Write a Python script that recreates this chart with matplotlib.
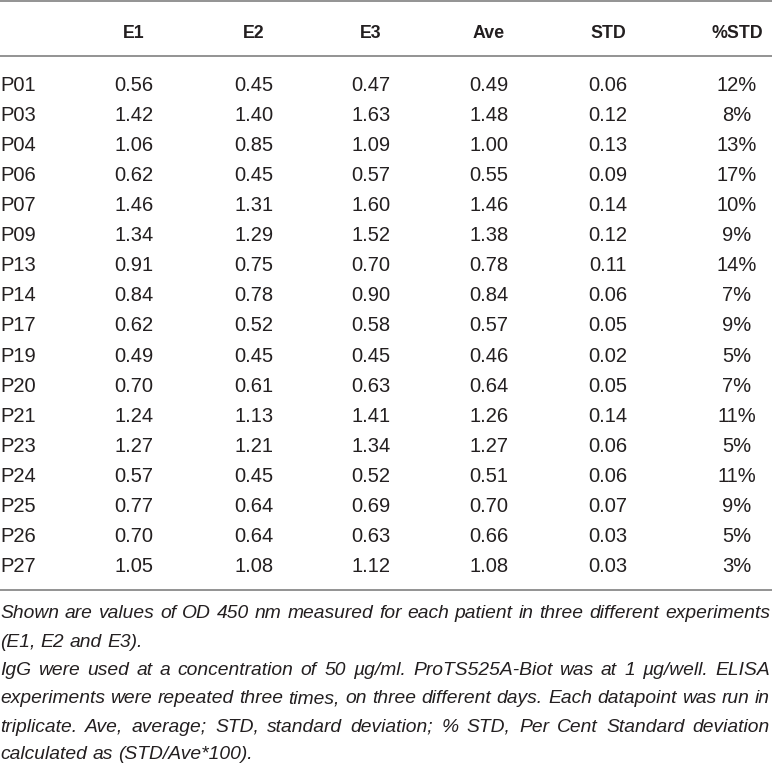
import matplotlib
matplotlib.use('Agg')
import matplotlib.pyplot as plt
from matplotlib import font_manager

# Table data (OD 450 nm per patient)
patients = ['P01', 'P03', 'P04', 'P06', 'P07', 'P09', 'P13', 'P14', 'P17',
            'P19', 'P20', 'P21', 'P23', 'P24', 'P25', 'P26', 'P27']
e1 = [0.56, 1.42, 1.06, 0.62, 1.46, 1.34, 0.91, 0.84, 0.62,
      0.49, 0.70, 1.24, 1.27, 0.57, 0.77, 0.70, 1.05]
e2 = [0.45, 1.40, 0.85, 0.45, 1.31, 1.29, 0.75, 0.78, 0.52,
      0.45, 0.61, 1.13, 1.21, 0.45, 0.64, 0.64, 1.08]
e3 = [0.47, 1.63, 1.09, 0.57, 1.60, 1.52, 0.70, 0.90, 0.58,
      0.45, 0.63, 1.41, 1.34, 0.52, 0.69, 0.63, 1.12]
ave = [0.49, 1.48, 1.00, 0.55, 1.46, 1.38, 0.78, 0.84, 0.57,
       0.46, 0.64, 1.26, 1.27, 0.51, 0.70, 0.66, 1.08]
std = [0.06, 0.12, 0.13, 0.09, 0.14, 0.12, 0.11, 0.06, 0.05,
       0.02, 0.05, 0.14, 0.06, 0.06, 0.07, 0.03, 0.03]
pct_std = [12, 8, 13, 17, 10, 9, 14, 7, 9, 5, 7, 11, 5, 11, 9, 5, 3]

headers = ['E1', 'E2', 'E3', 'Ave', 'STD', '%STD']

# (text, justified?)
caption_lines = [
    ("Shown are values of OD 450 nm measured for each patient in three different experiments", True),
    ("(E1, E2 and E3).", False),
    ("IgG were used at a concentration of 50 \u00b5g/ml. ProTS525A-Biot was at 1 \u00b5g/well. ELISA", True),
    ("experiments were repeated three times, on three different days. Each datapoint was run in", True),
    ("triplicate. Ave, average; STD, standard deviation; % STD, Per Cent Standard deviation", True),
    ("calculated as (STD/Ave*100).", False),
]

W, H = 772, 766
text_color = '#231f20'
rule_color = '#8a8a8a'

available = {f.name for f in font_manager.fontManager.ttflist}
if 'Liberation Sans Narrow' in available:
    cap_family = 'Liberation Sans Narrow'
else:
    cap_family = 'Liberation Sans'

fig = plt.figure(figsize=(W / 100, H / 100), dpi=100)
ax = fig.add_axes([0, 0, 1, 1])
ax.set_xlim(0, W)
ax.set_ylim(H, 0)
ax.axis('off')

# horizontal rules
for y in [1, 55.5, 590]:
    ax.axhline(y, color=rule_color, lw=1.3)

col_x = [134, 254, 371, 489, 608, 737]
header_base = 37.5
row_base0 = 91
row_step = 30.06

for x, h in zip(col_x, headers):
    ax.text(x, header_base, h, ha='center', va='baseline', fontsize=12.8,
            fontweight='bold', family='Liberation Sans', color=text_color)

columns = [
    [f'{v:.2f}' for v in e1],
    [f'{v:.2f}' for v in e2],
    [f'{v:.2f}' for v in e3],
    [f'{v:.2f}' for v in ave],
    [f'{v:.2f}' for v in std],
    [f'{v}%' for v in pct_std],
]

for i, p in enumerate(patients):
    y = row_base0 + i * row_step
    ax.text(0, y, p, ha='left', va='baseline', fontsize=14.5,
            family='Liberation Sans', color=text_color)
    for x, col in zip(col_x, columns):
        ax.text(x, y, col[i], ha='center', va='baseline', fontsize=14.5,
                family='Liberation Sans', color=text_color)

# caption, justified lines
renderer = fig.canvas.get_renderer()


def text_width(s, size):
    t = ax.text(0, 0, s, fontsize=size, family=cap_family, style='italic')
    w = t.get_window_extent(renderer=renderer).width
    t.remove()
    return w


# pick the size so the tightest line (line 4) just fills the width
base = 12.0
cap_size = base * 769 / text_width(caption_lines[3][0], base)
cap_kw = dict(fontsize=cap_size, family=cap_family, style='italic',
              color=text_color, va='baseline', ha='left')

space_w = text_width('x x', cap_size) - text_width('xx', cap_size)
cap_bases = [618, 647, 675, 703, 732, 759]

for (line, justify), yb in zip(caption_lines, cap_bases):
    words = line.split(' ')
    widths = [text_width(w, cap_size) for w in words]
    if justify and len(words) > 1:
        gap = (W - 2 - sum(widths)) / (len(words) - 1)
    else:
        gap = space_w
    x = 0
    for w, wd in zip(words, widths):
        ax.text(x, yb, w, **cap_kw)
        x += wd + gap

fig.savefig('out.png', dpi=100)
